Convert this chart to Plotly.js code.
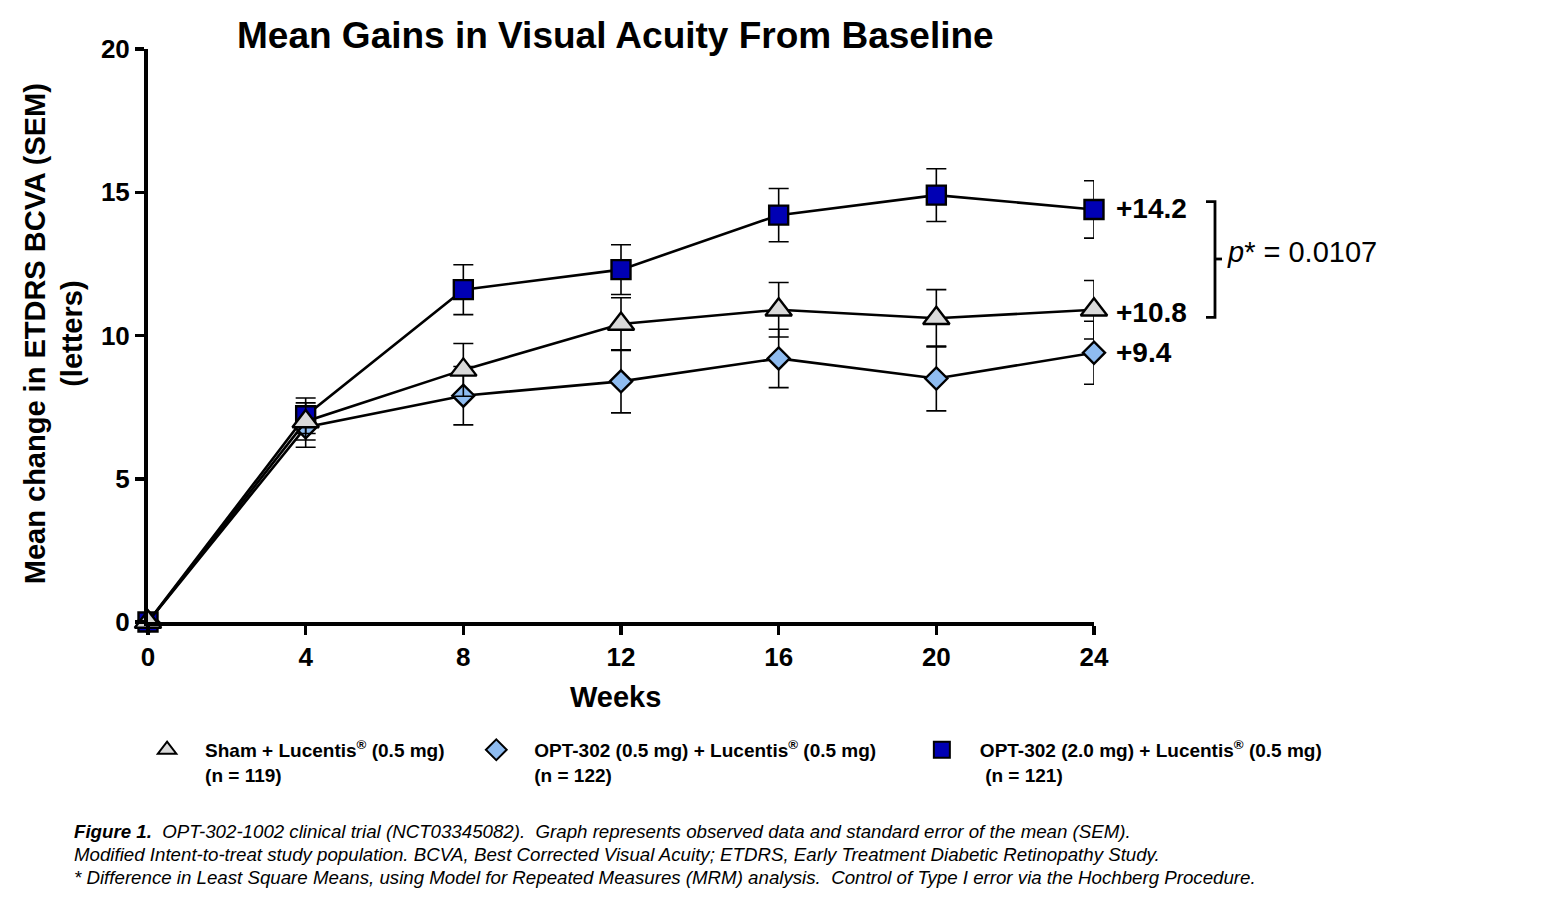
<!DOCTYPE html>
<html>
<head>
<meta charset="utf-8">
<script src="https://cdn.plot.ly/plotly-3.0.1.min.js"></script>
<style>html,body{margin:0;padding:0;background:#fff;}#chart{width:1552px;height:900px;}</style>
</head>
<body>
<div id="chart"></div>
<script>
// ---- data ----
const weeks = [0, 4, 8, 12, 16, 20, 24];
const shamMean   = [0, 7.0, 8.8, 10.4, 10.9, 10.6, 10.9];
const shamSEM    = [0, 0.65, 0.92, 0.92, 0.95, 1.0, 1.02];
const opt05Mean  = [0, 6.8, 7.9, 8.4, 9.2, 8.5, 9.4];
const opt05SEM   = [0, 0.7, 1.02, 1.1, 1.02, 1.13, 1.1];
const opt20Mean  = [0, 7.2, 11.6, 12.3, 14.2, 14.9, 14.4];
const opt20SEM   = [0, 0.62, 0.87, 0.87, 0.93, 0.92, 1.0];
const seriesNames = [
  'Sham + Lucentis<sup>®</sup> (0.5 mg)<br>(n = 119)',
  'OPT-302 (0.5 mg) + Lucentis<sup>®</sup> (0.5 mg)<br>(n = 122)',
  'OPT-302 (2.0 mg) + Lucentis<sup>®</sup> (0.5 mg)<br> (n = 121)'
];
const endLabels = ['+10.8', '+9.4', '+14.2'];
const endLabelY = [10.8, 9.4, 14.45];
const xTicks = [0, 4, 8, 12, 16, 20, 24];
const yTicks = [0, 5, 10, 15, 20];
const pText = '<i>p</i>* = 0.0107';

const FONT = 'Arial, "Liberation Sans", sans-serif';
const colSham = '#D9D9D9', col05 = '#8FBCF0', col20 = '#0000B4';

function mainTrace(y, err, symbol, size, fill) {
  return {
    x: weeks, y: y, mode: 'lines+markers', type: 'scatter', showlegend: false,
    cliponaxis: false,
    line: {color: '#000', width: 2.6},
    marker: {symbol: symbol, size: size, color: fill, line: {color: '#000', width: 2.4}},
    error_y: {type: 'data', array: err, visible: true, color: '#000', thickness: 1.6, width: 10}
  };
}
function legendTrace(name, symbol, fill, legendId) {
  return {
    x: [null], y: [null], mode: 'markers', type: 'scatter', name: name,
    legend: legendId, showlegend: true,
    marker: {symbol: symbol, size: 16, color: fill, line: {color: '#000', width: 2}}
  };
}

const traces = [
  mainTrace(opt05Mean, opt05SEM, 'diamond', 17, col05),
  mainTrace(opt20Mean, opt20SEM, 'square', 19, col20),
  mainTrace(shamMean, shamSEM, 'triangle-up', 23, colSham),
  legendTrace(seriesNames[0], 'triangle-up', colSham, 'legend'),
  legendTrace(seriesNames[1], 'diamond', col05, 'legend2'),
  legendTrace(seriesNames[2], 'square', col20, 'legend3')
];

const lastX = weeks[weeks.length - 1];
const annotations = [
  {text: 'Mean Gains in Visual Acuity From Baseline', xref: 'paper', yref: 'paper',
   x: 0.4937, y: 1.0244, xanchor: 'center', yanchor: 'middle', showarrow: false,
   font: {family: FONT, size: 37, color: '#000', weight: 'bold'}},
  {text: 'Mean change in ETDRS BCVA (SEM)<br>(letters)', xref: 'paper', yref: 'paper',
   x: -0.0994, y: 0.504, xanchor: 'center', yanchor: 'middle', textangle: -90, showarrow: false,
   font: {family: FONT, size: 29, color: '#000', weight: 'bold'}},
  {text: 'Weeks', xref: 'paper', yref: 'paper', x: 0.4937, y: -0.131,
   xanchor: 'center', yanchor: 'middle', showarrow: false,
   font: {family: FONT, size: 29, color: '#000', weight: 'bold'}},
  {text: pText, xref: 'paper', yref: 'y', x: 1.1385, y: 12.9, xanchor: 'left', yanchor: 'middle',
   showarrow: false, font: {family: FONT, size: 29, color: '#000'}},
  {text: '<b><i>Figure 1.</i></b><i>  OPT-302-1002 clinical trial (NCT03345082).  Graph represents observed data and standard error of the mean (SEM).</i>',
   xref: 'paper', yref: 'paper', x: -0.0803, y: -0.366, xanchor: 'left', yanchor: 'middle', showarrow: false,
   font: {family: FONT, size: 18.7, color: '#000'}},
  {text: '<i>Modified Intent-to-treat study population. BCVA, Best Corrected Visual Acuity; ETDRS, Early Treatment Diabetic Retinopathy Study.</i>',
   xref: 'paper', yref: 'paper', x: -0.0803, y: -0.406, xanchor: 'left', yanchor: 'middle', showarrow: false,
   font: {family: FONT, size: 18.7, color: '#000'}},
  {text: '<i>* Difference in Least Square Means, using Model for Repeated Measures (MRM) analysis.  Control of Type I error via the Hochberg Procedure.</i>',
   xref: 'paper', yref: 'paper', x: -0.0803, y: -0.446, xanchor: 'left', yanchor: 'middle', showarrow: false,
   font: {family: FONT, size: 18.7, color: '#000'}}
];
endLabels.forEach(function (t, i) {
  annotations.push({text: t, x: lastX, y: endLabelY[i], xref: 'x', yref: 'y', xanchor: 'left',
    yanchor: 'middle', xshift: 20, showarrow: false,
    font: {family: FONT, size: 28, color: '#000', weight: 'bold'}});
});

const shapes = [
  {type: 'path', xref: 'paper', yref: 'y',
   path: 'M 1.1184,14.67 L 1.1279,14.67 L 1.1279,10.635 L 1.1184,10.635',
   line: {color: '#000', width: 2.8}},
  {type: 'line', xref: 'paper', yref: 'y', x0: 1.1279, x1: 1.1353, y0: 12.67, y1: 12.67,
   line: {color: '#000', width: 2.8}}
];

const legendCommon = {
  orientation: 'v', xanchor: 'left', yanchor: 'top', yref: 'paper', xref: 'paper',
  font: {family: FONT, size: 19, color: '#000', weight: 'bold'},
  bgcolor: 'rgba(0,0,0,0)', itemwidth: 66, valign: 'top'
};

const layout = {
  width: 1552, height: 900,
  margin: {l: 148, r: 458, t: 49, b: 278},
  paper_bgcolor: '#fff', plot_bgcolor: '#fff',
  font: {family: FONT, color: '#000'},
  xaxis: {range: [0, 24], tickvals: xTicks, ticktext: xTicks.map(String),
    showgrid: false, zeroline: false, showline: true, linecolor: '#000', linewidth: 4,
    ticks: 'outside', ticklen: 9, tickwidth: 3.5, tickcolor: '#000',
    tickfont: {family: FONT, size: 26, color: '#000', weight: 'bold'}, fixedrange: true},
  yaxis: {range: [0, 20], tickvals: yTicks, ticktext: yTicks.map(String),
    showgrid: false, zeroline: false, showline: true, linecolor: '#000', linewidth: 4,
    ticks: 'outside', ticklen: 9, tickwidth: 3.5, tickcolor: '#000',
    tickfont: {family: FONT, size: 26, color: '#000', weight: 'bold'}, fixedrange: true},
  legend: Object.assign({}, legendCommon, {x: -0.020, y: -0.19}),
  legend2: Object.assign({}, legendCommon, {x: 0.328, y: -0.19}),
  legend3: Object.assign({}, legendCommon, {x: 0.799, y: -0.19}),
  annotations: annotations,
  shapes: shapes
};

Plotly.newPlot('chart', traces, layout, {displayModeBar: false, staticPlot: true});
</script>
</body>
</html>
